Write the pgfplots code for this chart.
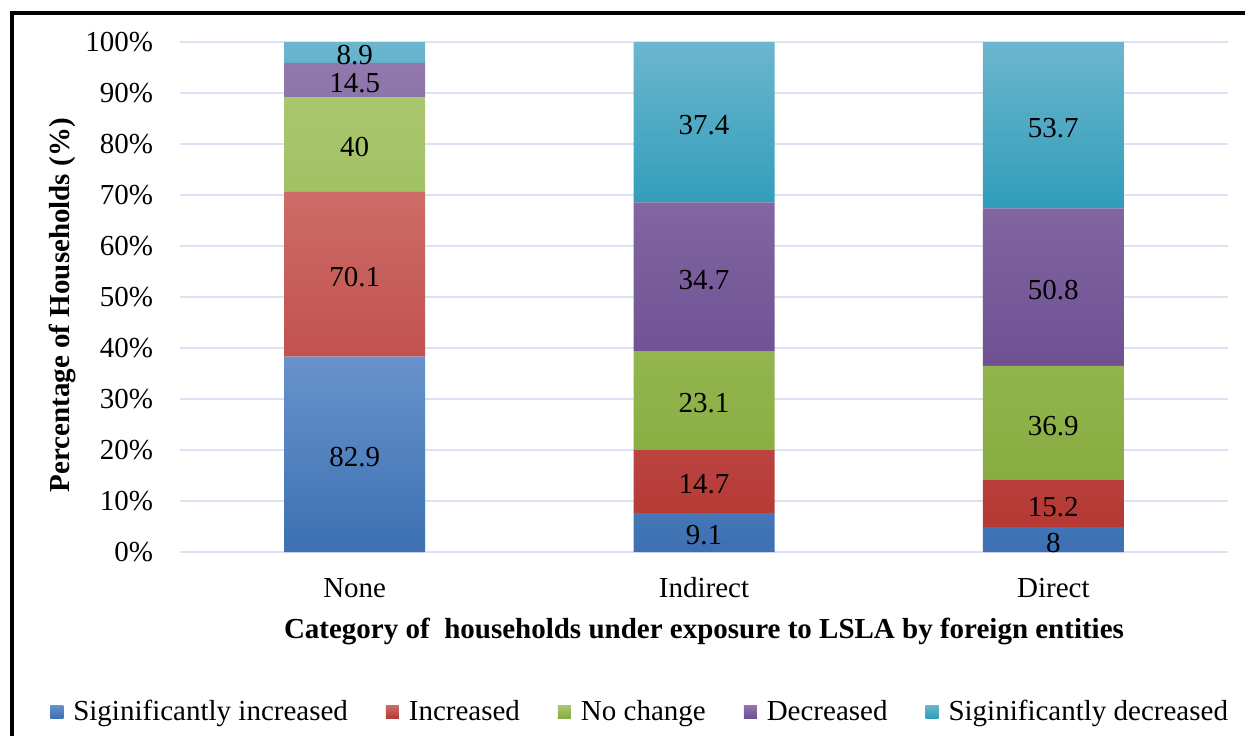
\documentclass[border=0pt]{standalone}
\usepackage{pgfplots}
\pgfplotsset{compat=1.18}
\usepackage{pgfplotstable}
\usepackage{fontspec}
\setmainfont{LiberationSerif}[Extension=.ttf, UprightFont=*-Regular, BoldFont=*-Bold, ItalicFont=*-Italic, BoldItalicFont=*-BoldItalic]

% palette: top / bottom of each bar gradient
\definecolor{gridblue}{RGB}{217,227,243}
\definecolor{siTop}{RGB}{104,147,204}
\definecolor{siBot}{RGB}{60,112,178}
\definecolor{inTop}{RGB}{205,108,104}
\definecolor{inBot}{RGB}{181,56,52}
\definecolor{ncTop}{RGB}{170,199,111}
\definecolor{ncBot}{RGB}{136,172,64}
\definecolor{deTop}{RGB}{145,120,173}
\definecolor{deBot}{RGB}{111,81,147}
\definecolor{sdTop}{RGB}{108,182,206}
\definecolor{sdBot}{RGB}{48,157,186}

% raw counts per exposure category
\pgfplotstableread{
x si inc nc dec sd
0 82.9 70.1 40 14.5 8.9
1 9.1 14.7 23.1 34.7 37.4
2 8 15.2 36.9 50.8 53.7
}\households

\newcommand{\tot}{(\thisrow{si}+\thisrow{inc}+\thisrow{nc}+\thisrow{dec}+\thisrow{sd})}
\newcommand{\lblfont}{\fontsize{14.5}{17}\selectfont}

\pgfplotsset{
  frame/.style={
    at={(90pt,91.5pt)}, anchor=south west,
    scale only axis, width=524pt, height=255pt,
    xmin=-0.5, xmax=2.5, ymin=0, ymax=100,
    /pgf/number format/assume math mode=true,
  },
  segSI/.style={draw=none, top color=siTop, bottom color=siBot},
  segIN/.style={draw=none, top color=inTop, bottom color=inBot},
  segNC/.style={draw=none, top color=ncTop, bottom color=ncBot},
  segDE/.style={draw=none, top color=deTop, bottom color=deBot},
  segSD/.style={draw=none, top color=sdTop, bottom color=sdBot},
  seglabel/.style={draw=none, mark=none, nodes near coords, point meta=explicit,
    every node near coord/.append style={anchor=center, yshift=-1.5pt,
      font=\lblfont, text=black}},
}

\begin{document}
\begin{tikzpicture}[font=\lblfont]
\begin{axis}[
  frame,
  ybar stacked, bar width=70.5pt,
  axis line style={draw=none}, tick style={draw=none},
  ymajorgrids, major grid style={draw=gridblue, line width=1pt},
  ytick={0,10,...,100},
  yticklabel={\pgfmathprintnumber{\tick}\%},
  yticklabel style={anchor=east, xshift=-10pt},
  xtick={0,1,2}, xticklabels={None,Indirect,Direct},
  xticklabel style={anchor=center, yshift=-18pt},
  xlabel={\bfseries Category of \ households under exposure to LSLA by foreign entities},
  xlabel style={at={(axis description cs:0.5,-0.155)}, anchor=center},
  ylabel={\bfseries Percentage of Households (\%)},
  ylabel style={at={(axis description cs:-0.1126,0.484)}, anchor=center},
  legend columns=5,
  legend style={draw=none, at={(0.44,-0.313)}, anchor=center, font=\lblfont,
    /tikz/every even column/.append style={column sep=17pt}},
  legend image code/.code={%
    \path[#1] (0pt,-3.25pt) rectangle (6.5pt,3.25pt);
    \path (0pt,0pt) -- (9.5pt,0pt);},
  legend cell align=left,
]
\addplot[segSI] table[x=x, y expr={100*\thisrow{si}/\tot}] \households;
\addplot[segIN] table[x=x, y expr={100*\thisrow{inc}/\tot}] \households;
\addplot[segNC] table[x=x, y expr={100*\thisrow{nc}/\tot}] \households;
\addplot[segDE] table[x=x, y expr={100*\thisrow{dec}/\tot}] \households;
\addplot[segSD] table[x=x, y expr={100*\thisrow{sd}/\tot}] \households;
\legend{Siginificantly increased, Increased, No change, Decreased, Siginificantly decreased}
\end{axis}

% value labels at the middle of each segment
\begin{axis}[frame, hide axis, clip=false]
\addplot[seglabel] table[x=x, meta=si,
  y expr={100*(\thisrow{si}/2)/\tot}] \households;
\addplot[seglabel] table[x=x, meta=inc,
  y expr={100*(\thisrow{si}+\thisrow{inc}/2)/\tot}] \households;
\addplot[seglabel] table[x=x, meta=nc,
  y expr={100*(\thisrow{si}+\thisrow{inc}+\thisrow{nc}/2)/\tot}] \households;
\addplot[seglabel] table[x=x, meta=dec,
  y expr={100*(\thisrow{si}+\thisrow{inc}+\thisrow{nc}+\thisrow{dec}/2)/\tot}] \households;
\addplot[seglabel] table[x=x, meta=sd,
  y expr={100*(\thisrow{si}+\thisrow{inc}+\thisrow{nc}+\thisrow{dec}+\thisrow{sd}/2)/\tot}] \households;
\end{axis}

% outer frame
\draw[line width=2pt] (5.75pt,-20pt) -- (5.75pt,361pt) -- (650pt,361pt);
\pgfresetboundingbox
\useasboundingbox (0,0) rectangle (622.5pt,367.5pt);
\end{tikzpicture}
\end{document}
